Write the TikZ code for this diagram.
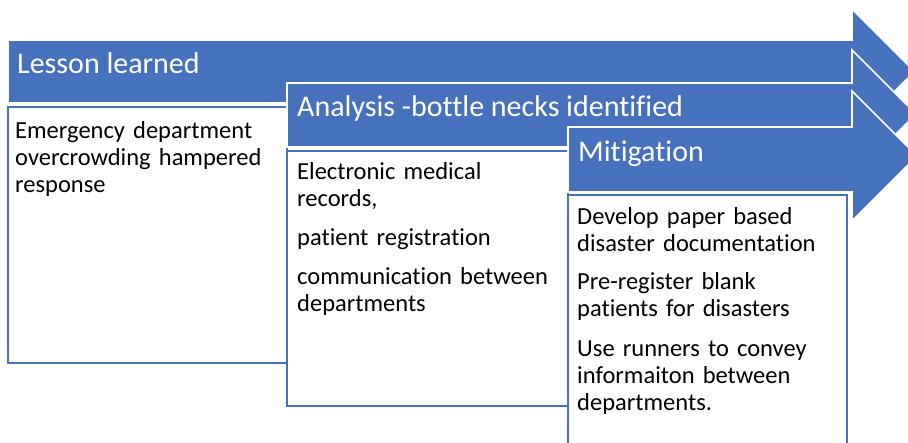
\documentclass[tikz,border=0pt]{standalone}
\usepackage{fontspec}
\setmainfont{Carlito}[Ligatures=NoCommon]
\definecolor{stepblue}{HTML}{4672BD}
\begin{document}
\begin{tikzpicture}[x=1pt,y=-1pt,
  arrowshape/.style={fill=stepblue,draw=white,line width=1.6pt,line join=miter},
  detailbox/.style={fill=white,draw=stepblue,line width=2pt},
  headtext/.style={anchor=base west,inner sep=0pt,text=white,font=\fontsize{30}{36}\selectfont},
  bodytext/.style={anchor=base west,inner sep=0pt,text width=270pt,align=left,
    font=\fontsize{24.5}{27}\selectfont}]
\useasboundingbox (0,0) rectangle (908,443);
\clip (0,0) rectangle (908,443);

% stage 1
\draw[arrowshape] (8,40) -- (852,40) -- (852,9) -- (914.5,71.5) -- (852,134)
  -- (852,103) -- (8,103) -- cycle;
\draw[detailbox] (8,107) rectangle (287,363);
\node[headtext] (h1) at (17,74) {Lesson learned};
\node[bodytext] (t1) at (15,139) {Emergency department\\overcrowding hampered\\response};

% stage 2
\draw[arrowshape] (287,83) -- (852,83) -- (852,50) -- (916,114) -- (852,178)
  -- (852,147) -- (287,147) -- cycle;
\draw[detailbox] (287,151) rectangle (568,406);
\node[headtext] (h2) at (297,117) {Analysis -bottle necks identified};
\node[bodytext] (t2) at (297,180) {Electronic medical\\records,\\[12pt]patient registration\\[12pt]communication between\\departments};

% stage 3
\draw[arrowshape] (568,127) -- (852,127) -- (852,91) -- (917,156) -- (852,221)
  -- (852,192) -- (568,192) -- cycle;
\draw[detailbox] (568,195) rectangle (847,452);
\node[headtext] (h3) at (578,162) {Mitigation};
\node[bodytext] (t3) at (577,225) {Develop paper based\\disaster documentation\\[11pt]Pre-register blank\\patients for disasters\\[13pt]Use runners to convey\\informaiton between\\departments.};
\end{tikzpicture}
\end{document}
